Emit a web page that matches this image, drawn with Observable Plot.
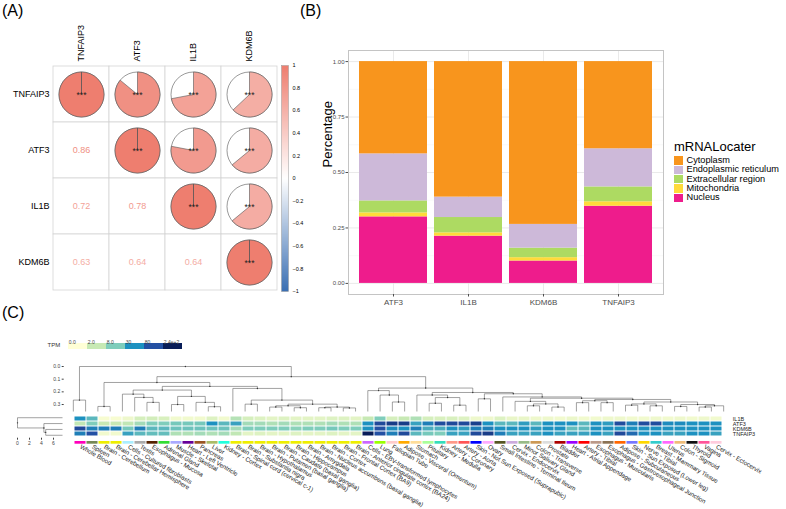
<!DOCTYPE html>
<html><head><meta charset="utf-8">
<script src="https://cdn.jsdelivr.net/npm/d3@7"></script>
<script src="https://cdn.jsdelivr.net/npm/@observablehq/plot@0.6"></script>
<style>
body{margin:0;background:#fff;font-family:"Liberation Sans",Arial,Helvetica,sans-serif;}
#root{position:relative;width:786px;height:509px;overflow:hidden;background:#fff;}
.plabel{position:absolute;font-size:16px;color:#000;line-height:1;}
.leg{position:absolute;left:674px;top:140px;width:112px;font-size:9.2px;color:#000;white-space:nowrap;line-height:1;}
.leg .t{font-size:13px;margin-bottom:3px;}
.leg .it{display:flex;align-items:center;height:9.3px;}
.leg .sw{width:8.5px;height:8.5px;margin-right:4px;flex:none;}
</style></head><body><div id="root"></div>
<script>
// ---------------- Panel A data ----------------
const corrGenes = ["TNFAIP3", "ATF3", "IL1B", "KDM6B"];
const corrMatrix = [
  [1.00, 0.86, 0.72, 0.63],
  [0.86, 1.00, 0.78, 0.64],
  [0.72, 0.78, 1.00, 0.64],
  [0.63, 0.64, 0.64, 1.00]
];
const corrStars = "***";
const corrBarTicks = [1, 0.8, 0.6, 0.4, 0.2, 0, -0.2, -0.4, -0.6, -0.8, -1];

// ---------------- Panel B data ----------------
const subcellGenes = ["ATF3", "IL1B", "KDM6B", "TNFAIP3"];
const locNames = ["Cytoplasm", "Endoplasmic reticulum", "Extracellular region", "Mitochondria", "Nucleus"];
const locColors = ["#F8951D", "#CDB9D9", "#ADDA62", "#FFDA3A", "#EE1C8C"];
const cytoplasm     = [0.416, 0.611, 0.734, 0.393];
const endoplasmic   = [0.212, 0.092, 0.107, 0.172];
const extracellular = [0.054, 0.069, 0.043, 0.067];
const mitochondria  = [0.018, 0.015, 0.015, 0.020];
const nucleus       = [0.300, 0.213, 0.101, 0.348];
const bTicks = [0, 0.25, 0.5, 0.75, 1];
const bMinor = [0.125, 0.375, 0.625, 0.875];

// ---------------- Panel C data ----------------
const tissues = ["Whole Blood","Spleen","Brain - Cerebellum","Brain - Cerebellar Hemisphere","Cells - Cultured fibroblasts","Testis","Esophagus - Mucosa","Adrenal Gland","Muscle - Skeletal","Heart - Left Ventricle","Pancreas","Liver","Kidney - Cortex","Brain - Spinal cord (cervical c-1)","Brain - Substantia nigra","Brain - Hypothalamus","Brain - Putamen (basal ganglia)","Brain - Caudate (basal ganglia)","Brain - Hippocampus","Brain - Amygdala","Brain - Nucleus accumbens (basal ganglia)","Brain - Cortex","Brain - Frontal Cortex (BA9)","Brain - Anterior cingulate cortex (BA24)","Cells - EBV-transformed lymphocytes","Lung","Fallopian Tube","Adipose - Visceral (Omentum)","Stomach","Pituitary","Kidney - Medulla","Artery - Coronary","Artery - Aorta","Skin - Not Sun Exposed (Suprapubic)","Ovary","Small Intestine - Terminal Ileum","Cervix - Endocervix","Minor Salivary Gland","Colon - Transverse","Prostate","Bladder","Heart - Atrial Appendage","Artery - Tibial","Esophagus - Muscularis","Esophagus - Gastroesophageal Junction","Adipose - Subcutaneous","Skin - Sun Exposed (Lower leg)","Nerve - Tibial","Breast - Mammary Tissue","Uterus","Colon - Sigmoid","Thyroid","Vagina","Cervix - Ectocervix"];
const tissueColors = ["#FF00BB","#778855","#EEEE00","#EEEE00","#AAEEFF","#AAAAAA","#552200","#33DD33","#AAAAFF","#660099","#995522","#AABB66","#22FFDD","#EEEE00","#EEEE00","#EEEE00","#EEEE00","#EEEE00","#EEEE00","#EEEE00","#EEEE00","#EEEE00","#EEEE00","#EEEE00","#CC66FF","#99FF00","#FFCCCC","#FFAA00","#FFDD99","#AAFF99","#33DDBB","#FF9988","#FF5555","#0000FF","#FFAAFF","#555522","#CCAADD","#99BB88","#CC9955","#DDDDDD","#AA0000","#9900FF","#FF0000","#BB9988","#8B7355","#FF6600","#7777FF","#FFD700","#33CCCC","#FF66FF","#EEBB77","#111111","#FF5599","#FFCCDD"];
const heatGenes = ["IL1B", "ATF3", "KDM6B", "TNFAIP3"];
const il1bTPM    = [30,16,0.3,0.3,0.6,1.5,1.6,1.4,0.5,0.5, 0.5,1.2,0.5,3.5,1.5,1.2,1.0,1.2,1.0,1.0, 1.0,1.2,1.2,1.0,2.0,8,1.5,2.0,4.0,1.5, 1.4,1.4,1.2,0.6,0.6,1.2,0.8,0.8,0.6,0.6, 0.5,0.7,0.5,0.5,0.6,0.6,0.5,0.5,0.6,0.5, 0.6,0.5,0.6,0.5];
const atf3TPM    = [2.5,8,2,2,2.5,5,8,8,10,10, 10,30,16,24,5,5,4,5,4,4, 4,5,4,4,30,100,140,140,24,45, 90,100,100,130,30,16,16,26,16,30, 30,30,16,30,26,90,45,90,90,35, 35,30,30,30];
const kdm6bTPM   = [100,45,45,45,10,45,16,16,12,12, 12,12,12,5,8,8,8,8,7,8, 8,10,8,8,30,80,35,30,45,20, 20,30,26,45,45,30,30,30,26,30, 30,14,16,30,30,30,30,30,30,30, 30,30,30,30];
const tnfaip3TPM = [45,80,0.5,0.5,24,16,14,14,4,4, 5,4,5,2.5,1,1.2,1,1,1.2,1, 1,1.2,1,1,240,80,45,100,16,10, 8,24,24,100,140,45,24,24,24,30, 24,24,24,30,24,100,60,30,30,24, 24,30,30,24];
const tpmBreaks = [0, 2, 8, 30, 80, 240];
const tpmBreakLabels = ["0.0", "2.0", "8.0", "30", "80", "2.4e+2"];
const tpmColors = ["#FFFFD6", "#C7E9B4", "#7FCDBB", "#1D91C0", "#2350A3", "#081D58"];
// column dendrogram: [left, right, mergeHeight]; leaves = tissue index
const colTree =
[ [0, 1, 0.265],
  [ [ [2, 3, 0.315],
      [ [ [4, [5, [6, 7, 0.283], 0.244], 0.218],
          [[8, 9, 0.300], [10, [11, 12, 0.317], 0.283], 0.236], 0.186],
        [13, [[14, 15, 0.297], [[[16, 17, 0.32], [18, 19, 0.325], 0.31], [[20, 21, 0.325], [22, 23, 0.327], 0.32], 0.297], 0.265], 0.173],
        0.157],
      0.126],
    [ [24, [25, [26, 27, 0.28], 0.225], 0.19],
      [ [28, [[29, 30, 0.29], [31, 32, 0.305], 0.245], 0.225],
        [ [33, 34, 0.255],
          [35, [ [36, [[37, 38, 0.31], [39, 40, 0.32], 0.295], 0.275],
                 [ [[41, 42, 0.285], [43, 44, 0.285], 0.27],
                   [ [[45, 46, 0.305], [47, 48, 0.31], 0.295],
                     [[49, 50, 0.315], [[51, 52, 0.32], 53, 0.31], 0.3], 0.28], 0.26], 0.25], 0.24],
          0.215],
        0.205],
      0.17],
    0.08],
  0];
const colLeafHeight = 0.355;
const colDendTicks = [0, 0.1, 0.2, 0.3];
// row dendrogram (heatGenes index)
const rowTree = [0, [1, [2, 3, 4.7], 4.4], 0];
const rowLeafHeight = 7.5;
const rowDendTicks = [0, 2, 4, 6];

// ---------------- helpers ----------------
const FONT = "Liberation Sans, Arial, Helvetica, sans-serif";
const root = document.getElementById("root");
function mount(node, left, top, w) {
  const d = document.createElement("div");
  d.style.cssText = `position:absolute;left:${left}px;top:${top}px;width:${w}px;`;
  d.appendChild(node); root.appendChild(d);
}
function label(txt, left, top) {
  const d = document.createElement("div"); d.className = "plabel"; d.textContent = txt;
  d.style.left = left + "px"; d.style.top = top + "px"; root.appendChild(d);
}
const style = {fontFamily: FONT, background: "none", overflow: "visible", maxWidth: "none"};
function layoutTree(node, leafH, segs, nodes) {
  if (typeof node === "number") return {p: node + 0.5, h: leafH};
  const [a, b, h] = node;
  const l = layoutTree(a, leafH, segs, nodes), r = layoutTree(b, leafH, segs, nodes);
  segs.push({p1: l.p, h1: h, p2: r.p, h2: h});
  segs.push({p1: l.p, h1: h, p2: l.p, h2: l.h});
  segs.push({p1: r.p, h1: h, p2: r.p, h2: r.h});
  const p = (l.p + r.p) / 2;
  nodes.push({p, h});
  return {p, h};
}

// ---------------- Panel A ----------------
const corrColor = {type: "linear", domain: [-1, 0, 1], range: ["#3A6FB3", "#FFFFFF", "#EE7E6F"]};
const pairs = [];
corrGenes.forEach((rg, i) => corrGenes.forEach((cg, j) => pairs.push({row: rg, col: cg, i, j, value: corrMatrix[i][j]})));
const upper = pairs.filter(d => d.j >= d.i);
const lower = pairs.filter(d => d.j < d.i);
function wedgeSymbol(v) {
  return {draw(ctx, size) {
    const R = Math.sqrt(size / Math.PI), a0 = -Math.PI / 2;
    ctx.moveTo(0, 0); ctx.lineTo(0, -R); ctx.arc(0, 0, R, a0, a0 + 2 * Math.PI * v); ctx.closePath();
  }};
}
const pieR = 22.5;
const plotA = Plot.plot({
  width: 300, height: 300, marginLeft: 52, marginRight: 22, marginTop: 65, marginBottom: 10,
  style,
  x: {domain: corrGenes, padding: 0}, y: {domain: corrGenes, padding: 0},
  color: corrColor,
  marks: [
    Plot.cell(pairs, {x: "col", y: "row", fill: "white", stroke: "#d4d4d4", strokeWidth: 0.8}),
    Plot.dot(upper, {x: "col", y: "row", r: pieR, fill: "white", stroke: "#555", strokeWidth: 0.6}),
    ...upper.map(d => Plot.dot([d], {x: "col", y: "row", r: pieR, symbol: wedgeSymbol(d.value), fill: "value", stroke: "#555", strokeWidth: 0.6})),
    Plot.text(upper, {x: "col", y: "row", text: () => corrStars, fontSize: 8.5, fill: "#222", dy: 1}),
    Plot.text(lower, {x: "col", y: "row", text: d => d.value.toFixed(2), fill: "value", fontSize: 9}),
    Plot.axisX({anchor: "top", tickSize: 0, tickRotate: -90, tickPadding: 4, fontSize: 9, label: null}),
    Plot.axisY({anchor: "left", tickSize: 0, tickPadding: 3, fontSize: 9, label: null})
  ]
});
mount(plotA, 0, 0, 300);

const fmtBar = d => d === 0 ? "0" : (d < 0 ? "\u2212" : "") + String(Math.abs(d));
const barA = Plot.plot({
  width: 30, height: 245, marginLeft: 6, marginRight: 17, marginTop: 10, marginBottom: 9,
  style,
  x: {domain: [0, 1], axis: null}, y: {domain: [-1, 1]},
  color: corrColor,
  marks: [
    Plot.raster({x1: 0, x2: 1, y1: -1, y2: 1, fill: (x, y) => y, imageRendering: "auto"}),
    Plot.frame({stroke: "#999", strokeWidth: 0.5}),
    Plot.axisY({anchor: "right", ticks: corrBarTicks, tickFormat: fmtBar, tickSize: 0, tickPadding: 4, fontSize: 5.5, label: null})
  ]
});
mount(barA, 275, 55, 30);

// ---------------- Panel B ----------------
const stackOrder = ["Nucleus", "Mitochondria", "Extracellular region", "Endoplasmic reticulum", "Cytoplasm"];
const locSeries = {"Cytoplasm": cytoplasm, "Endoplasmic reticulum": endoplasmic, "Extracellular region": extracellular, "Mitochondria": mitochondria, "Nucleus": nucleus};
const locRows = [];
subcellGenes.forEach((g, i) => stackOrder.forEach(loc => locRows.push({gene: g, loc, frac: locSeries[loc][i]})));
const plotB = Plot.plot({
  width: 370, height: 270, marginLeft: 48, marginRight: 7, marginTop: 10, marginBottom: 16,
  style,
  x: {domain: subcellGenes, paddingInner: 0.1, paddingOuter: 0.15},
  y: {domain: [-0.05, 1.05]},
  color: {domain: locNames, range: locColors},
  marks: [
    Plot.gridY(bMinor, {stroke: "#f2f2f2", strokeOpacity: 1, strokeWidth: 0.5}),
    Plot.gridY(bTicks, {stroke: "#e4e4e4", strokeOpacity: 1, strokeWidth: 0.8}),
    Plot.gridX({stroke: "#e4e4e4", strokeOpacity: 1, strokeWidth: 0.8}),
    Plot.barY(locRows, {x: "gene", y: "frac", fill: "loc", order: stackOrder}),
    Plot.frame({stroke: "#c4c4c4"}),
    Plot.axisY({ticks: bTicks, tickFormat: d3.format(".2f"), tickSize: 2.5, tickPadding: 1.5, fontSize: 6, color: "#4d4d4d", label: null}),
    Plot.axisX({tickSize: 2.5, tickPadding: 2, fontSize: 8, color: "#4d4d4d", label: null}),
    Plot.text(["Percentage"], {frameAnchor: "left", rotate: -90, dx: -21, dy: -5, fontSize: 13, fill: "#000"})
  ]
});
mount(plotB, 300, 40, 370);

const leg = document.createElement("div"); leg.className = "leg";
leg.innerHTML = `<div class="t">mRNALocater</div>` + locNames.map((n, i) =>
  `<div class="it"><div class="sw" style="background:${locColors[i]}"></div><span>${n}</span></div>`).join("");
root.appendChild(leg);

// ---------------- Panel C ----------------
const tpmScale = {type: "linear", domain: tpmBreaks, range: tpmColors};
// TPM legend
const tpmLegendData = tpmBreaks.map((v, i) => ({v, lab: tpmBreakLabels[i]}));
const legC = Plot.plot({
  width: 200, height: 16, marginLeft: 66.7, marginRight: 16, marginTop: 8, marginBottom: 2,
  style,
  x: {domain: tpmBreakLabels, padding: 0, axis: null},
  color: tpmScale,
  marks: [
    Plot.cell(tpmLegendData, {x: "lab", fill: "v"}),
    Plot.text(tpmLegendData, {x: "lab", text: "lab", frameAnchor: "top", dy: -3.5, dx: -9.2, textAnchor: "start", fontSize: 5, fill: "#444"}),
    Plot.text(["TPM"], {frameAnchor: "left", dx: -19.7, dy: -1.2, textAnchor: "start", fontSize: 6, fill: "#333"})
  ]
});
mount(legC, 0, 335, 200);

// column dendrogram
const colSegs = [], colNodes = [];
layoutTree(colTree, colLeafHeight, colSegs, colNodes);
const dendC = Plot.plot({
  width: 786, height: 56, marginLeft: 66.7, marginRight: 56.7, marginTop: 11, marginBottom: 0,
  style,
  x: {domain: [0, tissues.length], axis: null},
  y: {domain: [0, colLeafHeight], reverse: true},
  marks: [
    Plot.link(colSegs, {x1: "p1", y1: "h1", x2: "p2", y2: "h2", stroke: "#555", strokeWidth: 0.55}),
    Plot.dot(colNodes, {x: "p", y: "h", r: 0.7, fill: "#333", stroke: null}),
    Plot.axisY({ticks: colDendTicks, tickFormat: d3.format(".1f"), tickSize: 2, tickPadding: 2, fontSize: 5, dx: -3, color: "#444", label: null})
  ]
});
mount(dendC, 0, 355, 786);

// heatmap
const heatSeries = {"IL1B": il1bTPM, "ATF3": atf3TPM, "KDM6B": kdm6bTPM, "TNFAIP3": tnfaip3TPM};
const heatCells = [];
heatGenes.forEach(g => tissues.forEach((t, j) => heatCells.push({gene: g, tissue: t, tpm: heatSeries[g][j]})));
const heat = Plot.plot({
  width: 786, height: 28, marginLeft: 66.7, marginRight: 56.7, marginTop: 1.3, marginBottom: 3.3,
  style,
  x: {domain: tissues, padding: 0, axis: null},
  y: {domain: heatGenes, padding: 0},
  color: tpmScale,
  marks: [
    Plot.cell(heatCells, {x: "tissue", y: "gene", fill: "tpm", inset: 0.5}),
    Plot.axisY({anchor: "right", tickSize: 0, tickPadding: 3, fontSize: 5.5, color: "#222", label: null})
  ]
});
mount(heat, 0, 413, 786);

// tissue colour strip + labels
const tissueRows = tissues.map((t, i) => ({tissue: t, color: tissueColors[i]}));
const strip = Plot.plot({
  width: 786, height: 68.5, marginLeft: 66.7, marginRight: 56.7, marginTop: 0, marginBottom: 65.8,
  style,
  x: {domain: tissues, padding: 0},
  color: {type: "identity"},
  marks: [
    Plot.cell(tissueRows, {x: "tissue", fill: "color", insetLeft: 0.5, insetRight: 0.5}),
    Plot.axisX({anchor: "bottom", tickSize: 0, tickRotate: 30, tickPadding: 2, fontSize: 6.2, color: "#222", label: null})
  ]
});
mount(strip, 0, 440.5, 786);

// row dendrogram
const rowSegs = [], rowNodes = [];
layoutTree(rowTree, rowLeafHeight, rowSegs, rowNodes);
const dendR = Plot.plot({
  width: 70, height: 40, marginLeft: 17, marginRight: 8, marginTop: 1.3, marginBottom: 15.3,
  style,
  x: {domain: [0, rowLeafHeight]},
  y: {domain: [0, heatGenes.length], reverse: true, axis: null},
  marks: [
    Plot.link(rowSegs, {x1: "h1", y1: "p1", x2: "h2", y2: "p2", stroke: "#555", strokeWidth: 0.55}),
    Plot.dot(rowNodes, {x: "h", y: "p", r: 0.7, fill: "#333", stroke: null}),
    Plot.axisX({ticks: rowDendTicks, tickSize: 2, tickPadding: 1.5, fontSize: 5, color: "#444", label: null})
  ]
});
mount(dendR, 0, 413, 70);

label("(A)", 2, 3);
label("(B)", 300, 3);
label("(C)", 2, 305);
</script></body></html>
